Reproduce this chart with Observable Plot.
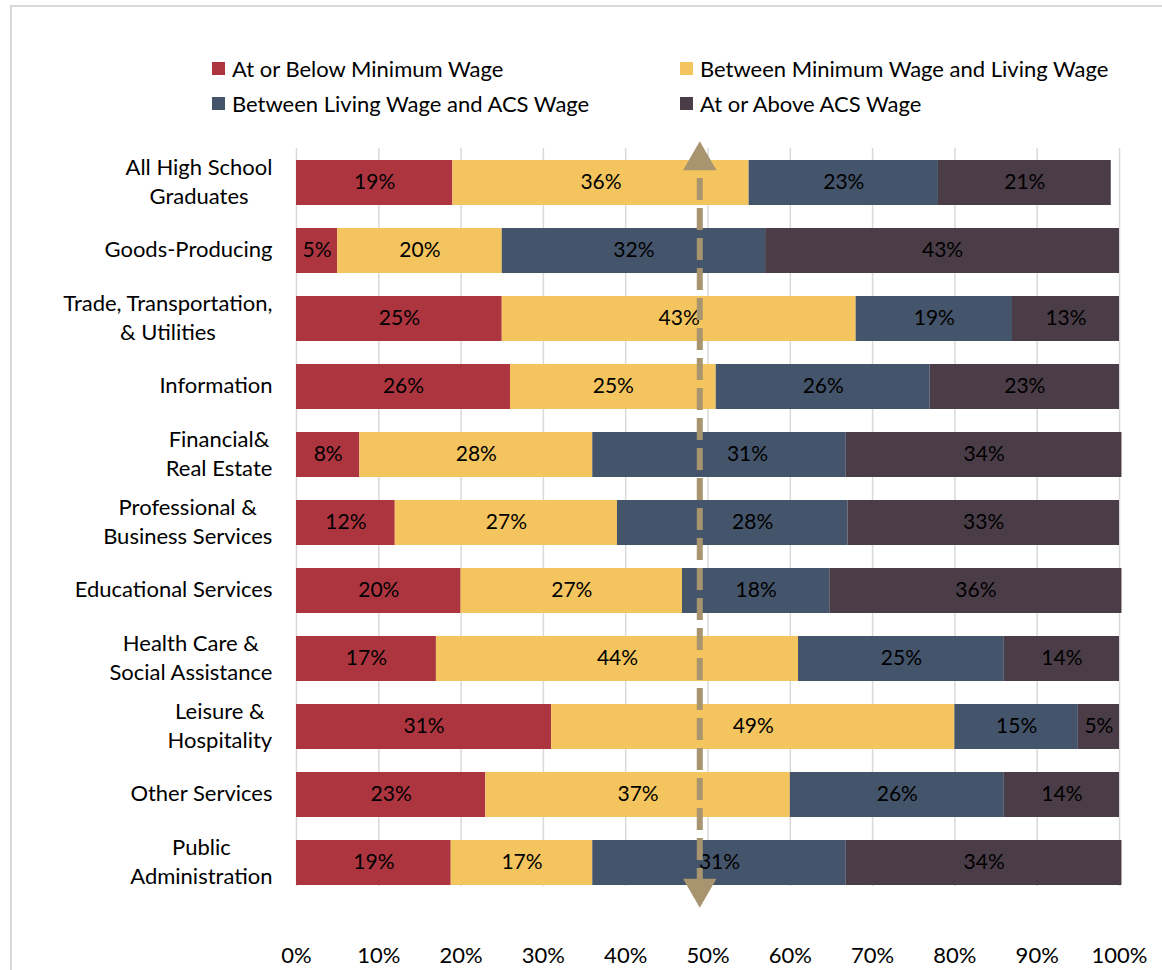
<!DOCTYPE html>
<html>
<head>
<meta charset="utf-8">
<script src="https://cdn.jsdelivr.net/npm/d3@7"></script>
<script src="https://cdn.jsdelivr.net/npm/@observablehq/plot@0.6"></script>
<style>
  html, body { margin: 0; padding: 0; background: #fff; overflow: hidden; }
  body { width: 1162px; height: 970px; position: relative; font-family: Lato, "Open Sans", sans-serif; }
  #frame { position: absolute; left: 10px; top: 5px; width: 1200px; height: 1000px; border: 2px solid #d9d9d9; box-sizing: border-box; }
  #chart { position: absolute; left: 0; top: 0; }
  .legend-item { position: absolute; display: flex; align-items: center; font-size: 22px; color: #000; white-space: nowrap; }
  .legend-item .sw { width: 13px; height: 13px; margin-right: 7px; flex: none; }
</style>
</head>
<body>
<div id="frame"></div>
<div id="legend"></div>
<div id="chart"></div>
<script>
// ---- data ----
const categories = [
  "All High School\nGraduates",
  "Goods-Producing",
  "Trade, Transportation,\n& Utilities",
  "Information",
  "Financial&\nReal Estate",
  "Professional &\nBusiness Services",
  "Educational Services",
  "Health Care &\nSocial Assistance",
  "Leisure &\nHospitality",
  "Other Services",
  "Public\nAdministration"
];
const seriesNames = [
  "At or Below Minimum Wage",
  "Between Minimum Wage and Living Wage",
  "Between Living Wage and ACS Wage",
  "At or Above ACS Wage"
];
// percent shares (shown rounded on the bars)
const belowMinimum   = [19, 5, 25, 26, 7.7, 12, 20.0, 17, 31, 23, 18.8];
const minToLiving    = [36, 20, 43, 25, 28.3, 27, 26.9, 44, 49, 37, 17.2];
const livingToACS    = [23, 32, 19, 26, 30.8, 28, 17.9, 25, 15, 26, 30.8];
const aboveACS       = [21, 43, 13, 23, 33.5, 33, 35.5, 14, 5, 14, 33.5];
const xTicks = [0, 0.1, 0.2, 0.3, 0.4, 0.5, 0.6, 0.7, 0.8, 0.9, 1.0];
const markerValue = [0.49];

const colors = ["#AD3540", "#F4C55E", "#44546A", "#4A3D47"];
const arrowColor = "#A8956F";

// ---- table ----
const seriesValues = [belowMinimum, minToLiving, livingToACS, aboveACS];
const rows = [];
seriesNames.forEach((s, si) => {
  categories.forEach((c, ci) => {
    const v = seriesValues[si][ci];
    rows.push({category: c, series: s, value: v / 100, label: Math.round(v) + "%"});
  });
});

// labels that were moved aside in the original to clear the 50% arrow
const isMoved = (d, cat) => d.series === seriesNames[2] && d.category === cat;

// ---- legend ----
const legendPos = [[212, 68], [680, 68], [212, 103], [680, 103]];
const legend = document.getElementById("legend");
seriesNames.forEach((s, i) => {
  const el = document.createElement("div");
  el.className = "legend-item";
  el.style.left = legendPos[i][0] + "px";
  el.style.top = (legendPos[i][1] - 14) + "px";
  el.style.height = "28px";
  el.innerHTML = `<span class="sw" style="background:${colors[i]}"></span><span>${s}</span>`;
  legend.appendChild(el);
});

// ---- chart ----
const textOpts = {x: "value", y: "category", text: "label", order: null, fill: "#000", fontSize: 21, dy: -1};
const plot = Plot.plot({
  width: 1162,
  height: 970,
  marginLeft: 296,
  marginRight: 43,
  marginTop: 148,
  marginBottom: 74,
  style: {fontFamily: "Lato, 'Open Sans', sans-serif", background: "transparent"},
  x: {domain: [0, 1]},
  y: {domain: categories, paddingInner: 0.34, paddingOuter: 0.17},
  color: {domain: seriesNames, range: colors},
  marks: [
    Plot.gridX(xTicks, {stroke: "#d9d9d9", strokeOpacity: 1, strokeWidth: 1.5, insetBottom: 10}),
    Plot.barX(rows, Plot.stackX({x: "value", y: "category", fill: "series", order: null})),
    Plot.text(rows, Plot.filter(d => !isMoved(d, categories[4]) && !isMoved(d, categories[5]), Plot.stackX(textOpts))),
    Plot.text(rows, Plot.filter(d => isMoved(d, categories[4]), Plot.stackX({...textOpts, dx: 28}))),
    Plot.text(rows, Plot.filter(d => isMoved(d, categories[5]), Plot.stackX({...textOpts, dx: 20}))),
    Plot.axisY({tickSize: 0, tickPadding: 24, fontSize: 22, lineHeight: 1.32, fill: "#000", label: null, dy: -3}),
    Plot.axisX(xTicks, {tickSize: 0, tickPadding: 51, fontSize: 22, fill: "#000", tickFormat: d3.format(".0%"), label: null}),
    Plot.ruleX(markerValue, {stroke: arrowColor, strokeWidth: 6, strokeDasharray: "22,8"}),
    Plot.dot(markerValue, {x: d => d, frameAnchor: "top", symbol: "triangle", r: 12.4, fill: arrowColor, stroke: null, dy: 12}),
    Plot.dot(markerValue, {x: d => d, frameAnchor: "bottom", symbol: "triangle", r: 12.4, fill: arrowColor, stroke: null, rotate: 180, dy: -8})
  ]
});
document.getElementById("chart").appendChild(plot);

// center multi-line y-axis labels (Excel-style), keeping them right-aligned as a block
plot.querySelectorAll('g[aria-label="y-axis tick label"] text').forEach(t => {
  const spans = t.querySelectorAll("tspan");
  if (spans.length > 1) {
    const w = t.getBBox().width;
    t.setAttribute("text-anchor", "middle");
    spans.forEach(s => s.setAttribute("x", -w / 2));
  }
});
</script>
</body>
</html>
